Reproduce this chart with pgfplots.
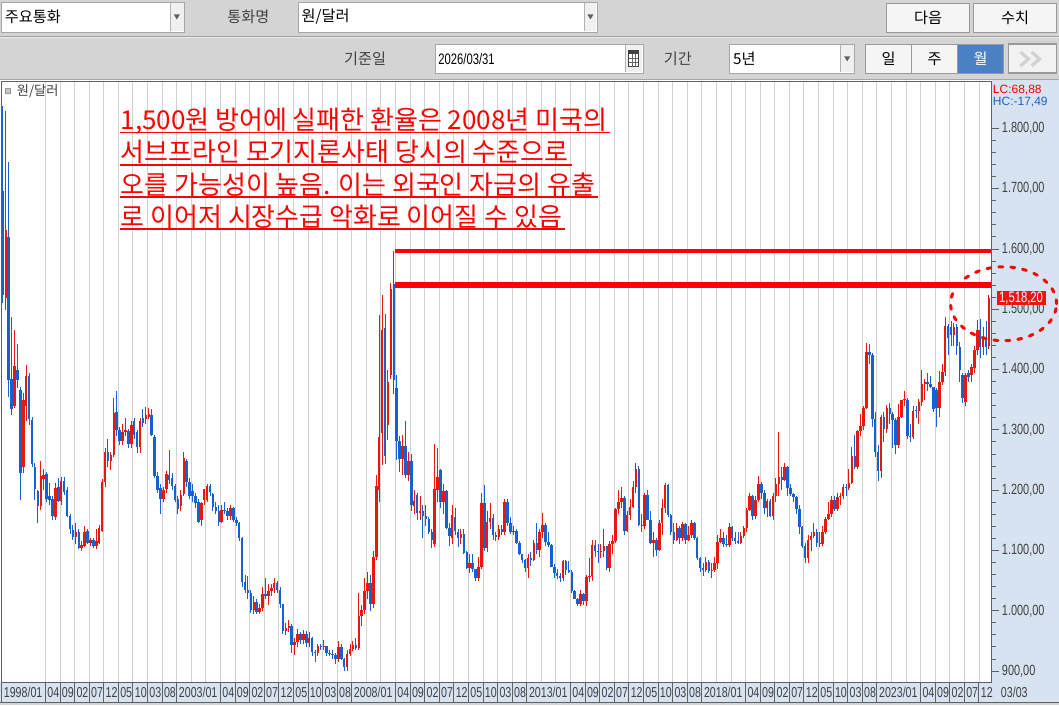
\documentclass[border=0pt]{standalone}
\usepackage{fontspec}
\setmainfont{Liberation Sans}
\newfontfamily\kr{Noto Sans CJK KR}
\newfontfamily\nar[FakeStretch=0.74]{Liberation Sans}
\usepackage{pgfplots}
\pgfplotsset{compat=1.18}
\usepackage{pgfplotstable}
\definecolor{upred}{HTML}{E8180E}
\definecolor{dnblue}{HTML}{1660D0}
\definecolor{gridc}{HTML}{D2D2D2}
\definecolor{uibg}{HTML}{D4D4D4}
\definecolor{panel}{HTML}{D7E3F0}
\definecolor{selblue}{HTML}{4C80C4}
\definecolor{hcblue}{HTML}{1F5FD0}
\definecolor{txt}{HTML}{404040}
\pgfplotstableread{
m o h l c
0 1696 1838 1510 1524
1 1518 1829 1499 1632
2 1620 1745 1355 1383
3 1384 1488 1325 1334
4 1339 1465 1337 1406
5 1400 1442 1370 1383
6 1366 1372 1183 1228
7 1238 1361 1229 1350
8 1340 1408 1315 1390
9 1390 1395 1308 1318
10 1317 1322 1239 1244
11 1239 1245 1184 1202
12 1198 1200 1146 1173
13 1173 1248 1168 1223
14 1219 1236 1200 1226
15 1227 1230 1180 1186
16 1190 1212 1175 1184
17 1186 1190 1150 1157
18 1156 1212 1150 1204
19 1206 1220 1180 1182
20 1182 1222 1175 1216
21 1216 1222 1192 1197
22 1201 1205 1155 1158
23 1158 1160 1128 1136
24 1134 1142 1118 1123
25 1123 1145 1110 1131
26 1131 1135 1102 1104
27 1104 1115 1100 1109
28 1107 1140 1105 1131
29 1132 1135 1110 1113
30 1113 1120 1108 1117
31 1117 1120 1104 1107
32 1107 1135 1102 1115
33 1113 1142 1110 1138
34 1133 1218 1130 1214
35 1214 1270 1205 1264
36 1263 1285 1238 1249
37 1249 1263 1234 1258
38 1258 1353 1255 1328
39 1330 1365 1290 1300
40 1300 1305 1275 1281
41 1281 1310 1275 1297
42 1297 1320 1290 1300
43 1298 1302 1270 1277
44 1277 1315 1270 1308
45 1314 1320 1285 1292
46 1296 1300 1262 1271
47 1272 1320 1262 1314
48 1320 1335 1305 1312
49 1318 1338 1310 1325
50 1322 1337 1318 1327
51 1325 1335 1290 1292
52 1289 1292 1220 1224
53 1224 1230 1195 1200
54 1204 1210 1161 1186
55 1186 1205 1180 1201
56 1202 1232 1195 1227
57 1225 1267 1210 1217
58 1221 1228 1200 1207
59 1207 1210 1180 1184
60 1186 1190 1160 1169
61 1173 1200 1165 1192
62 1194 1264 1190 1254
63 1249 1252 1205 1213
64 1213 1220 1185 1191
65 1198 1210 1180 1190
66 1191 1195 1170 1178
67 1181 1185 1145 1148
68 1150 1180 1140 1178
69 1184 1202 1175 1202
70 1184 1210 1180 1207
71 1207 1210 1190 1197
72 1193 1196 1165 1172
73 1172 1180 1160 1166
74 1166 1175 1140 1147
75 1147 1175 1145 1168
76 1168 1180 1160 1165
77 1165 1170 1150 1157
78 1157 1175 1150 1170
79 1170 1172 1148 1150
80 1150 1155 1140 1145
81 1145 1148 1115 1120
82 1120 1122 1040 1047
83 1047 1060 1030 1035
84 1035 1057 1020 1030
85 1030 1035 996 1001
86 1001 1025 995 1015
87 1015 1020 995 998
88 998 1012 995 1004
89 1004 1040 1000 1028
90 1028 1055 1020 1025
91 1025 1045 1010 1033
92 1033 1045 1025 1037
93 1037 1055 1030 1046
94 1046 1050 1030 1035
95 1035 1040 1005 1011
96 1011 1012 962 967
97 967 980 960 972
98 972 985 965 975
99 975 978 930 944
100 944 955 927 949
101 949 970 940 961
102 961 965 945 951
103 951 968 945 962
104 962 967 940 946
105 946 965 940 955
106 955 956 925 931
107 931 935 915 930
108 930 945 925 941
109 941 945 935 940
110 940 952 935 941
111 941 942 925 930
112 930 935 925 929
113 929 935 920 927
114 927 930 912 920
115 920 950 915 940
116 940 945 918 920
117 920 922 900 907
118 907 935 900 928
119 928 945 925 936
120 936 950 933 943
121 943 955 935 938
122 938 1030 935 991
123 991 1010 975 1001
124 1001 1055 995 1033
125 1033 1065 1020 1046
126 1046 1060 1000 1012
127 1012 1100 1005 1089
128 1089 1226 1085 1207
129 1200 1491 1180 1289
130 1295 1524 1242 1466
131 1469 1492 1244 1257
132 1308 1400 1284 1380
133 1391 1544 1385 1533
134 1542 1597 1360 1383
135 1370 1391 1250 1281
136 1282 1290 1230 1252
137 1252 1292 1225 1273
138 1273 1315 1220 1226
139 1226 1264 1215 1249
140 1249 1260 1165 1176
141 1173 1200 1160 1182
142 1192 1195 1150 1162
143 1162 1190 1150 1165
144 1165 1175 1120 1157
145 1157 1175 1140 1153
146 1153 1155 1128 1131
147 1131 1135 1104 1118
148 1110 1277 1105 1202
149 1201 1270 1180 1222
150 1233 1235 1170 1181
151 1181 1210 1160 1198
152 1198 1200 1135 1137
153 1138 1145 1107 1124
154 1121 1176 1110 1159
155 1155 1170 1125 1132
156 1130 1135 1105 1120
157 1120 1135 1110 1127
158 1127 1136 1094 1096
159 1097 1100 1070 1071
160 1071 1095 1063 1080
161 1080 1095 1064 1069
162 1069 1070 1049 1054
163 1054 1090 1050 1073
164 1073 1196 1070 1179
165 1179 1208 1100 1104
166 1104 1165 1098 1147
167 1147 1178 1135 1154
168 1154 1160 1118 1125
169 1125 1130 1116 1123
170 1123 1142 1118 1135
171 1135 1142 1125 1130
172 1130 1185 1125 1180
173 1180 1185 1140 1146
174 1146 1155 1128 1130
175 1130 1140 1125 1133
176 1133 1135 1110 1112
177 1112 1115 1092 1094
178 1094 1095 1080 1084
179 1084 1086 1065 1071
180 1071 1095 1054 1087
181 1087 1098 1075 1084
182 1084 1118 1082 1112
183 1112 1145 1095 1101
184 1101 1135 1090 1131
185 1131 1163 1120 1142
186 1142 1145 1108 1114
187 1114 1130 1106 1109
188 1109 1110 1073 1073
189 1073 1078 1055 1062
190 1062 1070 1052 1058
191 1058 1062 1048 1055
192 1055 1085 1050 1082
193 1082 1085 1060 1067
194 1067 1082 1062 1065
195 1065 1068 1030 1033
196 1033 1035 1020 1020
197 1020 1022 1008 1012
198 1012 1035 1008 1028
199 1028 1030 1010 1017
200 1017 1060 1008 1056
201 1056 1087 1047 1057
202 1057 1118 1050 1109
203 1109 1118 1090 1099
204 1099 1110 1080 1098
205 1098 1111 1088 1100
206 1100 1136 1090 1107
207 1107 1108 1068 1071
208 1071 1115 1065 1111
209 1111 1125 1095 1115
210 1115 1170 1112 1169
211 1169 1200 1160 1180
212 1180 1205 1170 1187
213 1187 1190 1125 1132
214 1132 1165 1130 1159
215 1159 1185 1150 1172
216 1172 1215 1170 1206
217 1206 1245 1195 1235
218 1235 1240 1140 1143
219 1143 1160 1130 1140
220 1140 1195 1135 1192
221 1192 1200 1150 1151
222 1151 1165 1110 1112
223 1112 1130 1090 1117
224 1117 1120 1091 1101
225 1101 1150 1100 1145
226 1145 1185 1125 1170
227 1170 1212 1162 1208
228 1208 1210 1155 1159
229 1159 1160 1125 1131
230 1131 1145 1110 1117
231 1117 1145 1115 1137
232 1137 1140 1110 1120
233 1120 1148 1115 1144
234 1144 1145 1110 1118
235 1118 1140 1115 1125
236 1125 1150 1120 1146
237 1146 1148 1118 1121
238 1121 1122 1085 1087
239 1087 1090 1065 1071
240 1071 1080 1058 1067
241 1067 1090 1065 1081
242 1081 1085 1062 1066
243 1066 1080 1054 1068
244 1068 1090 1065 1079
245 1079 1125 1070 1114
246 1114 1135 1112 1120
247 1120 1130 1105 1110
248 1110 1125 1105 1109
249 1109 1145 1105 1139
250 1139 1140 1115 1120
251 1120 1130 1110 1116
252 1116 1130 1110 1112
253 1112 1130 1110 1124
254 1124 1140 1120 1137
255 1137 1170 1130 1168
256 1168 1196 1165 1190
257 1190 1192 1150 1157
258 1157 1190 1153 1183
259 1183 1223 1180 1211
260 1211 1213 1185 1196
261 1196 1200 1160 1170
262 1170 1185 1155 1182
263 1182 1185 1155 1157
264 1157 1195 1150 1191
265 1191 1220 1180 1210
266 1210 1296 1190 1222
267 1222 1238 1200 1217
268 1217 1245 1215 1239
269 1239 1240 1190 1203
270 1203 1210 1190 1193
271 1193 1195 1180 1188
272 1188 1190 1160 1169
273 1169 1175 1127 1139
274 1139 1140 1104 1107
275 1107 1112 1080 1088
276 1088 1125 1080 1118
277 1118 1130 1100 1124
278 1124 1145 1120 1131
279 1131 1135 1105 1112
280 1112 1130 1105 1111
281 1111 1140 1107 1130
282 1130 1155 1128 1152
283 1152 1180 1150 1160
284 1160 1190 1155 1184
285 1184 1190 1165 1169
286 1169 1195 1165 1189
287 1189 1195 1175 1190
288 1190 1210 1185 1205
289 1205 1210 1190 1204
290 1204 1235 1200 1212
291 1212 1272 1210 1257
292 1257 1292 1235 1238
293 1238 1300 1235 1298
294 1298 1326 1290 1307
295 1307 1340 1300 1337
296 1337 1444 1335 1430
297 1430 1443 1410 1424
298 1424 1428 1305 1318
299 1318 1330 1255 1264
300 1264 1275 1216 1232
301 1232 1325 1220 1322
302 1322 1330 1280 1302
303 1302 1342 1295 1337
304 1337 1345 1310 1327
305 1327 1330 1270 1317
306 1317 1320 1260 1275
307 1275 1343 1270 1322
308 1322 1350 1320 1349
309 1349 1365 1340 1350
310 1350 1353 1285 1290
311 1290 1310 1280 1288
312 1288 1340 1285 1332
313 1332 1340 1320 1331
314 1331 1352 1310 1347
315 1347 1400 1340 1376
316 1376 1385 1350 1379
317 1379 1395 1365 1376
318 1376 1390 1370 1371
319 1371 1372 1330 1334
320 1366 1370 1305 1336
321 1336 1397 1322 1379
322 1379 1410 1375 1396
323 1396 1487 1390 1472
324 1472 1476 1424 1452
325 1470 1480 1440 1458
326 1458 1478 1440 1470
327 1470 1475 1425 1440
328 1438 1445 1380 1400
329 1391 1395 1345 1353
330 1347 1395 1340 1391
331 1394 1400 1380 1388
332 1391 1410 1380 1404
333 1403 1440 1395 1432
334 1432 1482 1425 1466
335 1466 1484 1419 1438
336 1438 1470 1425 1454
337 1452 1480 1425 1438
338 1440 1523 1435 1518.2
}\data
\begin{document}
\begin{tikzpicture}
\begin{scope}[x=0.5pt,y=-0.5pt]
\path[use as bounding box] (0,0) rectangle (1059,706);
\fill[uibg] (0,0) rectangle (1059,706);
\fill[white] (0,80) rectangle (992.3,683);
\fill[panel] (992.3,80) rectangle (1059,703);
\fill[panel] (0,683) rectangle (1059,703);
\draw[white!85!gray, line width=1pt] (0,37.5) -- (1059,37.5);
\draw[gray!75, line width=0.5pt] (0,36.2) -- (1059,36.2);
\draw[gray!70, line width=0.5pt] (0,79.5) -- (1059,79.5);
% row 1
\draw[gray!70, fill=white] (1,2) rectangle (184,32);
\fill[gray!12] (170,3) rectangle (183.5,31.5);
\draw[gray!60] (170,3) -- (170,31.5);
\fill[gray!75!black] (173.5,14.5) -- (179.5,14.5) -- (176.5,19.5) -- cycle;
\node[anchor=west, inner sep=0pt, font=\kr\fontsize{7.6pt}{9pt}\selectfont] at (4,17) {주요통화};
\node[inner sep=0pt, text=txt, font=\kr\fontsize{7.6pt}{9pt}\selectfont] at (248,17) {통화명};
\draw[gray!70, fill=white] (298,2) rectangle (597,32);
\fill[gray!12] (584,3) rectangle (596.5,31.5);
\draw[gray!60] (584,3) -- (584,31.5);
\fill[gray!75!black] (587.5,14.5) -- (593.5,14.5) -- (590.5,19.5) -- cycle;
\node[anchor=west, inner sep=0pt, font=\kr\fontsize{7.6pt}{9pt}\selectfont] at (301,17) {원/달러};
\draw[gray!80, fill=gray!8] (887,3) rectangle (970,32);
\node[inner sep=0pt, font=\kr\fontsize{7.6pt}{9pt}\selectfont] at (928.5,17.5) {다음};
\draw[gray!80, fill=gray!8] (974,3) rectangle (1057,32);
\node[inner sep=0pt, font=\kr\fontsize{7.6pt}{9pt}\selectfont] at (1015.5,17.5) {수치};
% row 2
\node[inner sep=0pt, text=txt, font=\kr\fontsize{7.6pt}{9pt}\selectfont] at (365,59) {기준일};
\draw[gray!70, fill=white] (435,44) rectangle (643,73);
\fill[gray!12] (625,45) rectangle (642.5,72.5);
\draw[gray!60] (625,45) -- (625,72.5);
\draw[black!75, fill=white, line width=0.5pt] (629,51) rectangle (638.5,67);
\fill[black!75] (629,51) rectangle (638.5,54);
\draw[black!60, line width=0.3pt] (632.2,54) -- (632.2,67) (635.4,54) -- (635.4,67) (629,58.5) -- (638.5,58.5) (629,62.5) -- (638.5,62.5);
\node[anchor=west, inner sep=0pt, font=\nar\fontsize{7.6pt}{9pt}\selectfont] at (438,59.5) {2026/03/31};
\node[inner sep=0pt, text=txt, font=\kr\fontsize{7.6pt}{9pt}\selectfont] at (678,59) {기간};
\draw[gray!70, fill=white] (730,44) rectangle (855,73);
\fill[gray!12] (841,45) rectangle (854.5,72.5);
\draw[gray!60] (841,45) -- (841,72.5);
\fill[gray!75!black] (844.5,56.5) -- (850.5,56.5) -- (847.5,61.5) -- cycle;
\node[anchor=west, inner sep=0pt, font=\kr\fontsize{7.6pt}{9pt}\selectfont] at (733,59) {5년};
\draw[gray!80, fill=gray!8] (866,44) rectangle (912,73);
\draw[gray!80, fill=gray!8] (912,44) rectangle (958,73);
\draw[gray!80, fill=selblue] (958,44) rectangle (1004,73);
\node[inner sep=0pt, font=\kr\fontsize{7.6pt}{9pt}\selectfont] at (889,59) {일};
\node[inner sep=0pt, font=\kr\fontsize{7.6pt}{9pt}\selectfont] at (935,59) {주};
\node[inner sep=0pt, text=white, font=\kr\fontsize{7.6pt}{9pt}\selectfont] at (981,59) {월};
\draw[gray!80, fill=gray!10, line width=0.8pt] (1009,44) rectangle (1057,73);
\draw[gray!35, line width=1.6pt] (1021,52) -- (1029,59) -- (1021,66) (1032,52) -- (1040,59) -- (1032,66);
\end{scope}
\begin{axis}[
  at={(0.75pt,-341.5pt)}, anchor=south west,
  width=495.4pt, height=300.75pt, scale only axis,
  xmin=-0.31, xmax=339.0, ymin=881.3, ymax=1878,
  axis line style={draw=gray!75!black, line width=0.5pt},
  xtick={14.59,19.59,...,334.6}, xticklabels={},
  xtick style={draw=none},
  xmajorgrids, grid style={draw=gridc, line width=0.5pt},
  ytick={900,1000,...,1800}, minor y tick num=4,
  ytick pos=right, yticklabel pos=right, tick align=outside,
  major tick length=3.5pt, minor tick length=2pt,
  ytick style={draw=gray!75!black, line width=0.5pt},
  minor y tick style={draw=gray!75!black, line width=0.5pt},
  yticklabel style={font=\nar\fontsize{7.4pt}{8pt}\selectfont, text=txt, xshift=-2pt},
  /pgf/number format/.cd, fixed, fixed zerofill, precision=2, 1000 sep={,}, use comma, assume math mode=true,
]
\addplot[draw=none, no markers, forget plot,
  error bars/.cd, y dir=plus, y explicit, error mark=none,
  error bar style={draw=upred, line width=0.5pt}]
  table[x=m, y expr={\thisrow{c}>=\thisrow{o} ? \thisrow{l} : nan},
        y error expr={\thisrow{h}-\thisrow{l}}] {\data};
\addplot[draw=none, no markers, forget plot,
  error bars/.cd, y dir=plus, y explicit, error mark=none,
  error bar style={draw=dnblue, line width=0.5pt}]
  table[x=m, y expr={\thisrow{c}<\thisrow{o} ? \thisrow{l} : nan},
        y error expr={\thisrow{h}-\thisrow{l}}] {\data};
\addplot[draw=none, no markers, forget plot,
  error bars/.cd, y dir=plus, y explicit, error mark=none,
  error bar style={draw=upred, line width=1.25pt}]
  table[x=m, y expr={\thisrow{c}>=\thisrow{o} ? \thisrow{o} : nan},
        y error expr={max(\thisrow{c}-\thisrow{o},1.6)}] {\data};
\addplot[draw=none, no markers, forget plot,
  error bars/.cd, y dir=plus, y explicit, error mark=none,
  error bar style={draw=dnblue, line width=1.25pt}]
  table[x=m, y expr={\thisrow{c}<\thisrow{o} ? \thisrow{c} : nan},
        y error expr={max(\thisrow{o}-\thisrow{c},1.6)}] {\data};
\addplot[red, line width=2.2pt, no marks, forget plot] coordinates {(134.4,1596.5) (338.7,1596.5)};
\addplot[red, line width=3pt, no marks, forget plot] coordinates {(134.4,1540.3) (338.7,1540.3)};
\end{axis}
\begin{scope}[x=0.5pt,y=-0.5pt]
% legend
\draw[gray!80, fill=gray!45, line width=0.4pt] (5,88.5) rectangle (9.5,93);
\node[anchor=west, inner sep=0pt, text=txt, font=\kr\fontsize{6.6pt}{8pt}\selectfont] at (16,91) {원/달러};
\node[anchor=west, inner sep=0pt, text=red, font=\fontsize{6pt}{7pt}\selectfont] at (993,90.5) {LC:68,88};
\node[anchor=west, inner sep=0pt, text=hcblue, font=\fontsize{6pt}{7pt}\selectfont] at (993,102.5) {HC:-17,49};
% annotation
\begin{scope}[every node/.style={anchor=base west, inner sep=0pt, text=red, font=\kr\fontsize{13pt}{15pt}\selectfont}]
\node (t1) at (120,129.7) {1,500원 방어에 실패한 환율은 2008년 미국의};
\node (t2) at (120,162) {서브프라인 모기지론사태 당시의 수준으로};
\node (t3) at (120,194.3) {오를 가능성이 높음. 이는 외국인 자금의 유출};
\node (t4) at (120,226.3) {로 이어저 시장수급 악화로 이어질 수 있음};
\end{scope}
\foreach \n in {t1,t2,t3,t4}{
  \draw[red, line width=0.7pt] ([yshift=-1.5pt]\n.base west) -- ([yshift=-1.5pt,xshift=1.5pt]\n.base east);
}
% strip
\draw[gray!75!black, line width=0.5pt] (0,703) -- (1059,703);
\begin{scope}[every node/.style={anchor=west, inner sep=0pt, text=txt, font=\nar\fontsize{7.2pt}{8pt}\selectfont}]
\foreach \b/\yr in {0/1998,60/2003,120/2008,180/2013,240/2018}{
  \pgfmathsetmacro\xx{1.5+(\b-0.1)*2.92}
  \draw[gray!75!black, line width=0.5pt] (\xx,683) -- (\xx,703);
  \node at ({\xx+1.8},693.5) {\yr/01};
  \foreach \o/\t in {15/04,20/09,25/02,30/07,35/12,40/05,45/10,50/03,55/08}{
    \pgfmathsetmacro\xx{1.5+(\b+\o-0.1)*2.92}
    \draw[gray!75!black, line width=0.5pt] (\xx,683) -- (\xx,703);
    \node at ({\xx+1.5},693.5) {\t};
  }
}
\pgfmathsetmacro\xx{1.5+(299.9)*2.92}
\draw[gray!75!black, line width=0.5pt] (\xx,683) -- (\xx,703);
\node at ({\xx+1.8},693.5) {2023/01};
\foreach \o/\t in {15/04,20/09,25/02,30/07,35/12}{
  \pgfmathsetmacro\xx{1.5+(300+\o-0.1)*2.92}
  \draw[gray!75!black, line width=0.5pt] (\xx,683) -- (\xx,703);
  \node at ({\xx+1.5},693.5) {\t};
}
\node at (1001,693.5) {03/03};
\end{scope}
% price box
\fill[upred] (997,291.5) rectangle (1046,305.5);
\node[inner sep=0pt, text=white, font=\nar\fontsize{7.6pt}{8pt}\selectfont] at (1021.5,298.7) {1,518,20};
% ellipse
\draw[red, line width=1.5pt, dash pattern=on 2pt off 4pt, line cap=round] (1004,304) ellipse [x radius=26.5pt, y radius=18.5pt];
\end{scope}
\end{tikzpicture}
\end{document}
